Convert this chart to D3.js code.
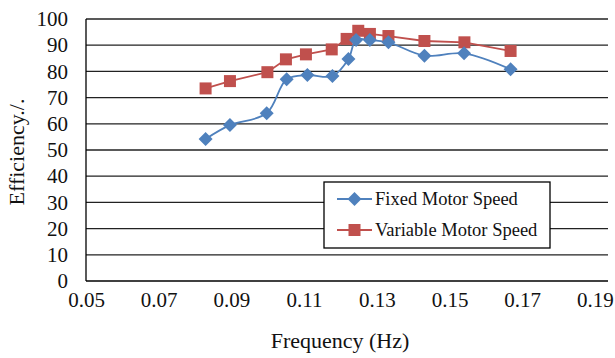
<!DOCTYPE html>
<html><head><meta charset="utf-8">
<script src="https://cdn.jsdelivr.net/npm/d3@7"></script>
<style>body{margin:0;background:#fff;} svg{display:block;}</style>
</head><body>
<svg id="c" width="615" height="358" font-family="Liberation Serif"></svg>
<script>
const fixedFreq = [0.0829, 0.0896, 0.0997, 0.1052, 0.1109, 0.1178, 0.1222, 0.1243, 0.1281, 0.1332, 0.1431, 0.1540, 0.1668];
const fixedEff  = [54.2, 59.5, 64.0, 77.0, 78.6, 78.2, 84.7, 92.0, 92.0, 91.1, 86.0, 86.9, 80.8];
const varFreq   = [0.0829, 0.0896, 0.0999, 0.1050, 0.1105, 0.1176, 0.1217, 0.1249, 0.1281, 0.1332, 0.1431, 0.1541, 0.1668];
const varEff    = [73.5, 76.3, 79.7, 84.6, 86.5, 88.4, 92.4, 95.5, 94.3, 93.5, 91.6, 91.1, 87.8];
const xTicks = [0.05, 0.07, 0.09, 0.11, 0.13, 0.15, 0.17, 0.19];
const yTicks = [0, 10, 20, 30, 40, 50, 60, 70, 80, 90, 100];
const seriesNames = ["Fixed Motor Speed", "Variable Motor Speed"];
const colors = ["#4F81BD", "#C0504D"];

const FONT = "Liberation Serif";
const svg = d3.select("#c");
const L = 86, R = 608, T = 19, B = 281;
const x = d3.scaleLinear().domain([0.05, 0.1936]).range([L, R]);
const y = d3.scaleLinear().domain([0, 100]).range([B, T]);

// gridlines
svg.append("g").selectAll("line").data(yTicks.filter(d => d > 0)).join("line")
  .attr("x1", L).attr("x2", R).attr("y1", d => y(d)).attr("y2", d => y(d))
  .attr("stroke", "#222").attr("stroke-width", 1.3);

// axes
const yAxis = svg.append("g").attr("transform", `translate(${L},0)`)
  .call(d3.axisLeft(y).tickValues(yTicks).tickSize(0).tickPadding(18).tickFormat(d3.format("d")));
const xAxis = svg.append("g").attr("transform", `translate(0,${B})`)
  .call(d3.axisBottom(x).tickValues(xTicks).tickSize(0).tickPadding(11).tickFormat(d3.format(".2f")));
[yAxis, xAxis].forEach(g => {
  g.attr("font-family", FONT).attr("font-size", 21);
  g.select(".domain").attr("stroke", "#000").attr("stroke-width", 1.3);
  g.selectAll("text").attr("font-family", FONT).attr("font-size", 21).attr("fill", "#111");
});
yAxis.select(".domain").attr("d", `M0,${T}V${B}`);
xAxis.select(".domain").attr("d", `M${L},0H${R}`);

// titles
svg.append("text").attr("x", 340).attr("y", 348).attr("text-anchor", "middle")
  .attr("font-family", FONT).attr("font-size", 22).attr("fill", "#111").text("Frequency (Hz)");
svg.append("text").attr("transform", "translate(24,152) rotate(-90)").attr("text-anchor", "middle")
  .attr("font-family", FONT).attr("font-size", 22).attr("fill", "#111").text("Efficiency./.");

// series
const fixedData = fixedFreq.map((f, i) => [f, fixedEff[i]]);
const varData = varFreq.map((f, i) => [f, varEff[i]]);
const lineSmooth = d3.line().x(d => x(d[0])).y(d => y(d[1])).curve(d3.curveCatmullRom.alpha(0.5));
const lineStraight = d3.line().x(d => x(d[0])).y(d => y(d[1]));

svg.append("path").attr("d", lineStraight(varData)).attr("fill", "none")
  .attr("stroke", colors[1]).attr("stroke-width", 1.8);
svg.append("path").attr("d", lineSmooth(fixedData)).attr("fill", "none")
  .attr("stroke", colors[0]).attr("stroke-width", 1.8);

const sq = 12, dm = 7;
const diamond = (cx, cy, r) => `M${cx},${cy - r}L${cx + r},${cy}L${cx},${cy + r}L${cx - r},${cy}Z`;
svg.append("g").selectAll("rect").data(varData).join("rect")
  .attr("x", d => x(d[0]) - sq / 2).attr("y", d => y(d[1]) - sq / 2)
  .attr("width", sq).attr("height", sq).attr("fill", colors[1]);
svg.append("g").selectAll("path").data(fixedData).join("path")
  .attr("d", d => diamond(x(d[0]), y(d[1]), dm)).attr("fill", colors[0]);

// legend
const lg = svg.append("g");
lg.append("rect").attr("x", 324).attr("y", 182).attr("width", 226).attr("height", 66)
  .attr("fill", "#fff").attr("stroke", "#000").attr("stroke-width", 1.3);
seriesNames.forEach((name, i) => {
  const cy = 199 + i * 31;
  lg.append("line").attr("x1", 337).attr("x2", 372).attr("y1", cy).attr("y2", cy)
    .attr("stroke", colors[i]).attr("stroke-width", 1.8);
  if (i === 0) lg.append("path").attr("d", diamond(354.5, cy, dm)).attr("fill", colors[0]);
  else lg.append("rect").attr("x", 354.5 - sq / 2).attr("y", cy - sq / 2).attr("width", sq).attr("height", sq).attr("fill", colors[1]);
  lg.append("text").attr("x", 375).attr("y", cy).attr("dy", "0.35em")
    .attr("font-family", FONT).attr("font-size", 18.5).attr("fill", "#111").text(name);
});
</script>
</body></html>
